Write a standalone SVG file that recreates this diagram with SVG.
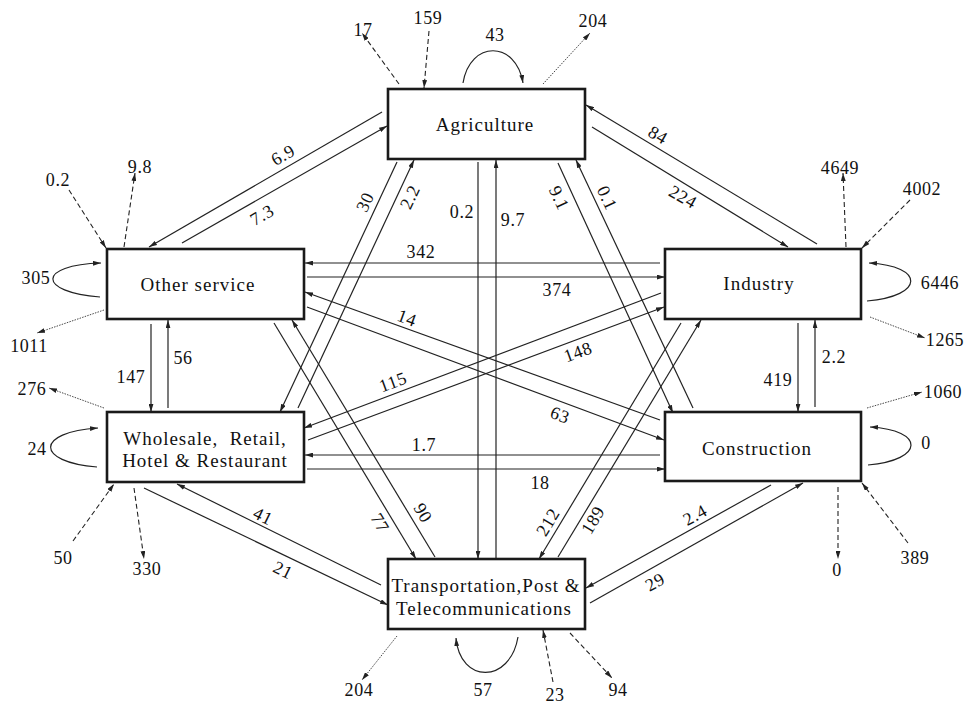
<svg xmlns="http://www.w3.org/2000/svg" width="965" height="705" viewBox="0 0 965 705">
<style>
.box{fill:#fff;stroke:#1a1a1a;stroke-width:2.6}
text{font-family:'Liberation Serif','Times New Roman',Times,'DejaVu Serif',serif;fill:#111;text-anchor:middle}
.nt{font-size:19px;letter-spacing:1px}
.n{font-size:18px;letter-spacing:0.6px}
.s{stroke:#222;stroke-width:1.2;fill:none;marker-end:url(#a)}
.d{stroke:#222;stroke-width:1.1;fill:none;stroke-dasharray:5 3;marker-end:url(#a)}
.o{stroke:#333;stroke-width:0.9;fill:none;stroke-dasharray:1.5 1.2;marker-end:url(#a)}
</style>
<defs>
<marker id="a" viewBox="0 0 10 6" refX="10" refY="3" markerWidth="8" markerHeight="5" markerUnits="userSpaceOnUse" orient="auto"><path d="M0,0 L10,3 L0,6 z" fill="#222"/></marker>
</defs>
<rect width="965" height="705" fill="#fff"/>
<g id="connectors">
<line class="s" x1="382" y1="112" x2="149" y2="247"/>
<line class="s" x1="182" y1="243" x2="387" y2="126"/>
<line class="s" x1="817" y1="244" x2="586" y2="105"/>
<line class="s" x1="592" y1="127" x2="788" y2="247"/>
<line class="s" x1="397" y1="162" x2="280" y2="412"/>
<line class="s" x1="298" y1="408" x2="414" y2="160"/>
<line class="s" x1="478" y1="162" x2="478" y2="559"/>
<line class="s" x1="496" y1="558" x2="496" y2="160"/>
<line class="s" x1="558" y1="163" x2="673" y2="413"/>
<line class="s" x1="693" y1="408" x2="576" y2="160"/>
<line class="s" x1="660" y1="263" x2="305" y2="263"/>
<line class="s" x1="307" y1="277" x2="665" y2="277"/>
<line class="s" x1="660" y1="420" x2="305" y2="292"/>
<line class="s" x1="307" y1="307" x2="664" y2="440"/>
<line class="s" x1="661" y1="293" x2="304" y2="428"/>
<line class="s" x1="308" y1="440" x2="664" y2="307"/>
<line class="s" x1="660" y1="455" x2="305" y2="455"/>
<line class="s" x1="307" y1="469" x2="665" y2="469"/>
<line class="s" x1="274" y1="323" x2="416" y2="559"/>
<line class="s" x1="435" y1="557" x2="292" y2="320"/>
<line class="s" x1="681" y1="323" x2="539" y2="559"/>
<line class="s" x1="558" y1="557" x2="701" y2="320"/>
<line class="s" x1="151" y1="324" x2="151" y2="412"/>
<line class="s" x1="168" y1="408" x2="168" y2="320"/>
<line class="s" x1="798" y1="323" x2="798" y2="412"/>
<line class="s" x1="815" y1="407" x2="815" y2="320"/>
<line class="s" x1="381" y1="585" x2="177" y2="484"/>
<line class="s" x1="144" y1="488" x2="388" y2="605"/>
<line class="s" x1="771" y1="485" x2="586" y2="588"/>
<line class="s" x1="590" y1="603" x2="803" y2="483"/>
<path class="s" d="M463,83 C470,40 516,40 523,83"/>
<path class="s" d="M100,297 C37,292 37,265 101,263"/>
<path class="s" d="M97,467 C35,462 35,432 98,428"/>
<path class="s" d="M867,301 C925,296 925,266 869,263"/>
<path class="s" d="M868,465 C925,460 925,430 870,427"/>
<path class="s" d="M518,637 C510,684 460,684 456,638"/>
<line class="d" x1="399" y1="84" x2="362" y2="33"/>
<line class="d" x1="429" y1="31" x2="424" y2="88"/>
<line class="d" x1="69" y1="190" x2="106" y2="248"/>
<line class="d" x1="124" y1="247" x2="135" y2="173"/>
<line class="d" x1="846" y1="247" x2="843" y2="173"/>
<line class="d" x1="910" y1="200" x2="862" y2="248"/>
<line class="d" x1="73" y1="541" x2="114" y2="484"/>
<line class="d" x1="134" y1="488" x2="144" y2="559"/>
<line class="d" x1="553" y1="682" x2="543" y2="630"/>
<line class="d" x1="570" y1="633" x2="612" y2="678"/>
<line class="d" x1="838" y1="487" x2="838" y2="559"/>
<line class="d" x1="908" y1="543" x2="862" y2="483"/>
<line class="o" x1="543" y1="84" x2="590" y2="33"/>
<line class="o" x1="104" y1="310" x2="37" y2="333"/>
<line class="o" x1="104" y1="408" x2="49" y2="388"/>
<line class="o" x1="870" y1="317" x2="925" y2="338"/>
<line class="o" x1="867" y1="408" x2="922" y2="392"/>
<line class="o" x1="397" y1="636" x2="362" y2="680"/>
</g>
<g id="agriculture"><rect class="box" x="388" y="89" width="197" height="70"/><text class="nt" x="485" y="131">Agriculture</text></g>
<g id="other-service"><rect class="box" x="107" y="249" width="197" height="70"/><text class="nt" x="198" y="291">Other service</text></g>
<g id="wholesale"><rect class="box" x="107" y="412" width="197" height="70"/><text class="nt" x="205" y="445" xml:space="preserve" style="white-space:pre">Wholesale,  Retail,</text><text class="nt" x="205" y="467">Hotel &amp; Restaurant</text></g>
<g id="industry"><rect class="box" x="665" y="249" width="196" height="70"/><text class="nt" x="759" y="290">Industry</text></g>
<g id="construction"><rect class="box" x="665" y="412" width="196" height="69"/><text class="nt" x="757" y="455">Construction</text></g>
<g id="transportation"><rect class="box" x="388" y="559" width="197" height="70"/><text class="nt" x="486" y="592">Transportation,Post &amp;</text><text class="nt" x="484" y="615">Telecommunications</text></g>
<g id="labels">
<text class="n" x="363" y="36">17</text>
<text class="n" x="428" y="24">159</text>
<text class="n" x="495" y="41">43</text>
<text class="n" x="593" y="27">204</text>
<text class="n" x="58" y="186">0.2</text>
<text class="n" x="140" y="173">9.8</text>
<text class="n" x="36" y="284">305</text>
<text class="n" x="29" y="352">1011</text>
<text class="n" x="32" y="395">276</text>
<text class="n" x="37" y="455">24</text>
<text class="n" x="63" y="564">50</text>
<text class="n" x="147" y="575">330</text>
<text class="n" x="359" y="696">204</text>
<text class="n" x="483" y="696">57</text>
<text class="n" x="555" y="701">23</text>
<text class="n" x="618" y="696">94</text>
<text class="n" x="837" y="576">0</text>
<text class="n" x="915" y="564">389</text>
<text class="n" x="943" y="398">1060</text>
<text class="n" x="926" y="449">0</text>
<text class="n" x="945" y="346">1265</text>
<text class="n" x="940" y="289">6446</text>
<text class="n" x="840" y="174">4649</text>
<text class="n" x="922" y="195">4002</text>
<text class="n" x="421" y="258">342</text>
<text class="n" x="557" y="296">374</text>
<text class="n" x="424" y="451">1.7</text>
<text class="n" x="540" y="489">18</text>
<text class="n" x="462" y="218">0.2</text>
<text class="n" x="513" y="226">9.7</text>
<text class="n" x="131" y="383">147</text>
<text class="n" x="183" y="364">56</text>
<text class="n" x="778" y="386">419</text>
<text class="n" x="834" y="363">2.2</text>
<text class="n" transform="translate(283,155) rotate(-30)" y="6">6.9</text>
<text class="n" transform="translate(262,215) rotate(-30)" y="6">7.3</text>
<text class="n" transform="translate(658,135) rotate(30)" y="6">84</text>
<text class="n" transform="translate(683,197) rotate(30)" y="6">224</text>
<text class="n" transform="translate(365,202) rotate(-65)" y="6">30</text>
<text class="n" transform="translate(410,197) rotate(-65)" y="6">2.2</text>
<text class="n" transform="translate(559,198) rotate(65)" y="6">9.1</text>
<text class="n" transform="translate(607,198) rotate(65)" y="6">0.1</text>
<text class="n" transform="translate(407,318) rotate(20)" y="6">14</text>
<text class="n" transform="translate(560,415) rotate(20)" y="6">63</text>
<text class="n" transform="translate(393,382) rotate(-20)" y="6">115</text>
<text class="n" transform="translate(578,352) rotate(-20)" y="6">148</text>
<text class="n" transform="translate(380,523) rotate(59)" y="6">77</text>
<text class="n" transform="translate(423,513) rotate(59)" y="6">90</text>
<text class="n" transform="translate(548,522) rotate(-59)" y="6">212</text>
<text class="n" transform="translate(593,520) rotate(-59)" y="6">189</text>
<text class="n" transform="translate(263,516) rotate(26)" y="6">41</text>
<text class="n" transform="translate(283,570) rotate(26)" y="6">21</text>
<text class="n" transform="translate(695,515) rotate(-29)" y="6">2.4</text>
<text class="n" transform="translate(655,582) rotate(-29)" y="6">29</text>
</g>
</svg>
